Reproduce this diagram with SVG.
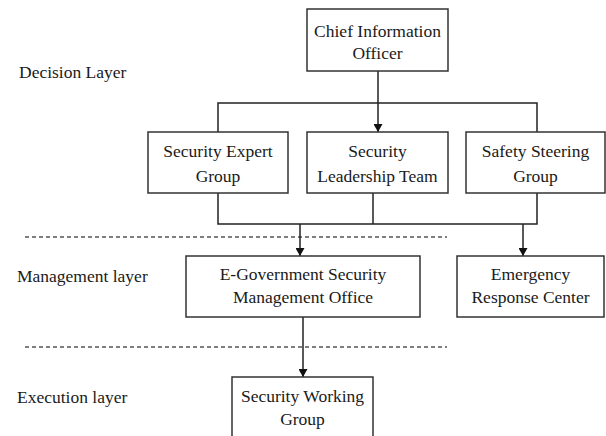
<svg xmlns="http://www.w3.org/2000/svg" width="606" height="436" viewBox="0 0 606 436">
<defs>
<style>
.box{fill:#fff;stroke:#333;stroke-width:1.5}
.t{font-family:"Liberation Serif","Times New Roman",serif;font-size:17.5px;fill:#1a1a1a;text-anchor:middle}
.lbl{font-family:"Liberation Serif","Times New Roman",serif;font-size:17.5px;fill:#1a1a1a}
.ln{fill:none;stroke:#222;stroke-width:1.5}
.dash{fill:none;stroke:#555;stroke-width:1.5;stroke-dasharray:4 3}
</style>
<marker id="arr" markerWidth="8" markerHeight="9" refX="8" refY="4.5" orient="auto" markerUnits="userSpaceOnUse">
<path d="M0,0 L8,4.5 L0,9 Z" fill="#111"/>
</marker>
</defs>
<rect width="606" height="436" fill="#fff"/>
<g id="layers">
<text class="lbl" x="19" y="78">Decision Layer</text>
<text class="lbl" x="17" y="282">Management layer</text>
<text class="lbl" x="17" y="403">Execution layer</text>
<line class="dash" x1="25" y1="237" x2="447" y2="237"/>
<line class="dash" x1="25" y1="347" x2="447" y2="347"/>
</g>
<g id="connectors">
<line class="ln" x1="378" y1="71" x2="378" y2="132" marker-end="url(#arr)"/>
<polyline class="ln" points="218,132 218,103 537,103 537,132"/>
<polyline class="ln" points="218,193 218,224 537,224 537,193"/>
<line class="ln" x1="373" y1="193" x2="373" y2="224"/>
<line class="ln" x1="300" y1="224" x2="300" y2="256" marker-end="url(#arr)"/>
<line class="ln" x1="523" y1="224" x2="523" y2="256" marker-end="url(#arr)"/>
<line class="ln" x1="303" y1="317" x2="303" y2="377" marker-end="url(#arr)"/>
</g>
<g id="cio">
<rect class="box" x="307" y="9" width="141" height="62"/>
<text class="t" x="377.5" y="37">Chief Information</text>
<text class="t" x="377.5" y="59">Officer</text>
</g>
<g id="expert">
<rect class="box" x="148" y="132" width="140" height="61"/>
<text class="t" x="218" y="157">Security Expert</text>
<text class="t" x="218" y="182">Group</text>
</g>
<g id="leadership">
<rect class="box" x="307" y="132" width="141" height="61"/>
<text class="t" x="377.5" y="157">Security</text>
<text class="t" x="377.5" y="182">Leadership Team</text>
</g>
<g id="steering">
<rect class="box" x="466" y="132" width="139" height="61"/>
<text class="t" x="535.5" y="157">Safety Steering</text>
<text class="t" x="535.5" y="182">Group</text>
</g>
<g id="mgmt">
<rect class="box" x="186" y="256" width="234" height="61"/>
<text class="t" x="303" y="280">E-Government Security</text>
<text class="t" x="303" y="303">Management Office</text>
</g>
<g id="emergency">
<rect class="box" x="457" y="256" width="147" height="61"/>
<text class="t" x="530.5" y="280">Emergency</text>
<text class="t" x="530.5" y="303">Response Center</text>
</g>
<g id="working">
<rect class="box" x="232" y="377" width="141" height="70"/>
<text class="t" x="302.5" y="402">Security Working</text>
<text class="t" x="302.5" y="425">Group</text>
</g>
</svg>
